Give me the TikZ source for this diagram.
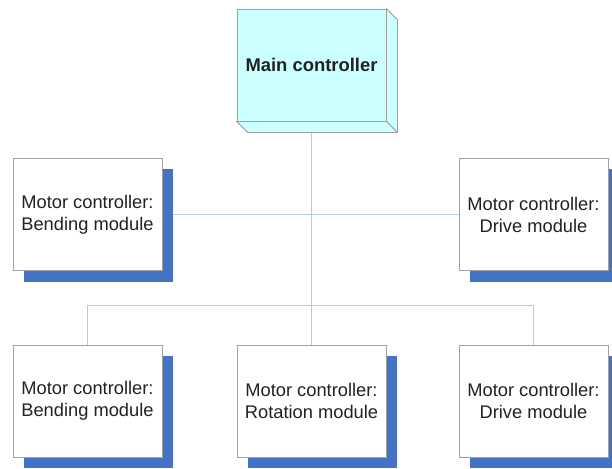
\documentclass[tikz,border=0pt]{standalone}
\usepackage{fontspec}
\setmainfont{Liberation Sans}
\usetikzlibrary{backgrounds}
\definecolor{linkblue}{HTML}{B4CAF0}
\definecolor{shadowblue}{HTML}{4472C4}
\definecolor{boxgray}{HTML}{A0A0A0}
\definecolor{cyanfill}{HTML}{CCFFFF}
\definecolor{txt}{HTML}{222222}
\begin{document}
\begin{tikzpicture}[x=1pt,y=-1pt,
  modbox/.style={draw=boxgray, fill=white, line width=0.8pt, minimum width=149pt,
    minimum height=112pt, inner sep=0pt, align=center,
    font=\fontsize{18.3}{22}\selectfont, text=txt},
  mainbox/.style={draw=boxgray, fill=cyanfill, line width=0.8pt, minimum width=149pt,
    minimum height=112pt, inner sep=0pt, align=center,
    font=\bfseries\fontsize{18.4}{22}\selectfont, text=txt},
  sidefill/.style={draw=boxgray, fill=cyanfill, line width=0.8pt, line join=round},
  link/.style={draw=linkblue, line width=0.9pt},
  shade/.style={fill=shadowblue}
]
\useasboundingbox (0,0) rectangle (612,468);

\node[mainbox] (m) at (311.5,65) {Main controller};
\draw[sidefill] (m.north east) -- ++(11,11) -- ([shift={(11,11)}]m.south east) -- (m.south east) -- cycle;
\draw[sidefill] (m.south west) -- ++(11,11) -- ([shift={(11,11)}]m.south east) -- (m.south east) -- cycle;

\node[modbox] (bl) at (87.5,214.5) {Motor controller:\\Bending module};
\node[modbox] (br) at (533.5,214.5) {Motor controller:\\Drive module};
\node[modbox] (cl) at (87.5,401) {Motor controller:\\Bending module};
\node[modbox] (cm) at (311.5,401) {Motor controller:\\Rotation module};
\node[modbox] (cr) at (533.5,401) {Motor controller:\\Drive module};

\coordinate (bus) at (311.5,305);
\coordinate (busl) at (cl.north |- bus);
\coordinate (busr) at (cr.north |- bus);

\begin{pgfonlayer}{background}
  \draw[link] (bl.east) -- (br.west);
  \draw[link] ([yshift=6pt]m.south) -- (bus);
  \draw[link] (cl.north) -- (busl) -- (busr) -- (cr.north);
  \draw[link] (bus) -- (cm.north);
  \foreach \n in {bl,br,cl,cm,cr}{
    \fill[shade] ([shift={(11,11)}]\n.north west) rectangle ([shift={(11,11)}]\n.south east);
  }
\end{pgfonlayer}
\end{tikzpicture}
\end{document}
